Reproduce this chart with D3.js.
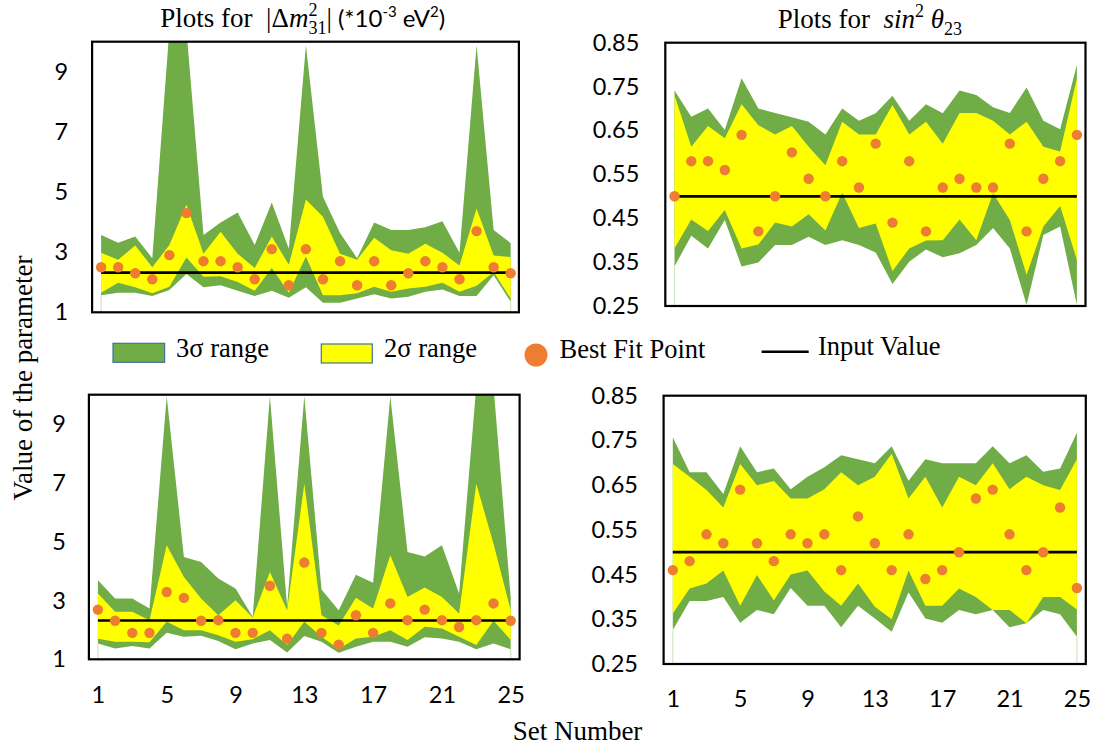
<!DOCTYPE html>
<html>
<head>
<meta charset="utf-8">
<script src="https://cdn.jsdelivr.net/npm/d3@7"></script>
<style>
  body { margin: 0; background: #fff; }
  svg { display: block; }
  text { white-space: pre; }
</style>
</head>
<body>
<svg id="chart" width="1096" height="747"></svg>
<script>
// ---------------- DATA ----------------
const sets = [1,2,3,4,5,6,7,8,9,10,11,12,13,14,15,16,17,18,19,20,21,22,23,24,25];
const xTickLabels = [1,5,9,13,17,21,25];
const dmTicks = [1,3,5,7,9];
const thTicks = [0.25,0.35,0.45,0.55,0.65,0.75,0.85];

const dmInput = 2.32;
const thInput = 0.50;

// Top-left : |Δm²31| (set A)
const dmA_lo3 = [1.57,1.65,1.65,1.54,1.74,2.27,1.83,1.90,1.72,1.54,1.72,1.48,1.83,1.32,1.32,1.46,1.60,1.46,1.52,1.68,1.76,1.54,1.54,2.23,1.35];
const dmA_lo2 = [1.65,1.98,1.83,1.63,1.85,2.82,2.18,2.20,2.01,1.72,2.47,1.65,2.86,1.57,1.57,1.63,1.85,1.68,1.79,1.85,1.98,1.68,1.88,2.34,1.46];
const dmA_hi2 = [2.98,2.75,3.22,2.50,3.24,4.58,2.95,3.68,2.95,2.47,3.52,2.58,4.75,4.18,2.95,2.75,3.48,3.06,2.95,3.28,2.98,2.56,4.45,2.89,2.84];
const dmA_hi3 = [3.57,3.31,3.52,2.80,10.4,10.4,3.57,3.99,4.32,3.24,4.65,3.11,9.88,4.84,3.64,2.80,3.99,3.74,3.74,3.83,4.03,2.98,9.88,3.74,3.30];
const dmA_best = [2.5,2.5,2.3,2.1,2.9,4.3,2.7,2.7,2.5,2.1,3.1,1.9,3.1,2.1,2.7,1.9,2.7,1.9,2.3,2.7,2.5,2.1,3.7,2.5,2.3];

// Top-right : sin²θ23 (set A)
const thA_lo3 = [0.340,0.410,0.381,0.446,0.340,0.349,0.389,0.389,0.408,0.389,0.400,0.389,0.372,0.300,0.351,0.379,0.361,0.370,0.389,0.428,0.381,0.252,0.412,0.431,0.252];
const thA_lo2 = [0.381,0.447,0.421,0.469,0.381,0.390,0.440,0.431,0.459,0.422,0.508,0.428,0.438,0.330,0.381,0.399,0.400,0.447,0.400,0.507,0.446,0.321,0.431,0.478,0.355];
const thA_hi2 = [0.730,0.613,0.660,0.632,0.710,0.662,0.641,0.660,0.613,0.571,0.670,0.641,0.641,0.708,0.641,0.670,0.620,0.690,0.690,0.672,0.641,0.670,0.613,0.602,0.769];
const thA_hi3 = [0.741,0.681,0.700,0.651,0.769,0.700,0.690,0.680,0.670,0.641,0.700,0.672,0.689,0.729,0.672,0.710,0.689,0.741,0.731,0.703,0.690,0.748,0.672,0.653,0.799];
const thA_best = [0.50,0.58,0.58,0.56,0.64,0.42,0.50,0.60,0.54,0.50,0.58,0.52,0.62,0.44,0.58,0.42,0.52,0.54,0.52,0.52,0.62,0.42,0.54,0.58,0.64];

// Bottom-left : |Δm²31| (set B)
const dmB_lo3 = [1.54,1.37,1.45,1.37,1.90,1.77,1.80,1.62,1.34,1.54,1.66,1.23,1.79,1.60,1.22,1.43,1.60,1.60,1.43,1.75,1.71,1.60,1.34,1.54,1.34];
const dmB_lo2 = [1.70,1.60,1.60,1.58,2.28,1.99,1.99,1.82,1.60,1.68,1.99,1.49,2.28,1.77,1.35,1.71,1.77,1.99,1.66,2.11,2.05,1.77,1.49,2.31,1.66];
const dmB_hi2 = [3.24,2.62,2.62,2.33,4.88,3.80,3.07,2.50,3.01,2.42,3.97,2.67,6.97,2.50,2.15,3.09,2.73,4.54,3.12,3.44,3.12,2.56,6.97,4.93,2.67];
const dmB_hi3 = [3.69,3.07,3.07,2.73,9.95,4.48,4.31,3.75,3.41,2.45,9.95,2.79,9.95,3.37,2.67,3.88,3.60,9.95,4.65,4.50,4.88,3.24,10.3,10.3,3.10];
const dmB_best = [2.69,2.31,1.9,1.9,3.29,3.09,2.31,2.33,1.9,1.9,3.5,1.7,4.29,1.9,1.5,2.5,1.9,2.9,2.33,2.69,2.33,2.1,2.33,2.9,2.31];

// Bottom-right : sin²θ23 (set B)
const thB_lo3 = [0.326,0.391,0.391,0.400,0.342,0.371,0.361,0.420,0.380,0.380,0.332,0.380,0.352,0.322,0.410,0.352,0.342,0.371,0.361,0.371,0.332,0.341,0.371,0.361,0.311];
const thB_lo2 = [0.363,0.419,0.430,0.459,0.380,0.449,0.392,0.450,0.459,0.412,0.380,0.430,0.378,0.350,0.459,0.380,0.380,0.419,0.400,0.371,0.371,0.341,0.400,0.400,0.372];
const thB_hi2 = [0.697,0.669,0.639,0.600,0.697,0.650,0.659,0.620,0.620,0.641,0.679,0.650,0.669,0.720,0.620,0.669,0.600,0.669,0.650,0.699,0.641,0.669,0.650,0.639,0.708];
const thB_hi3 = [0.757,0.679,0.679,0.630,0.737,0.679,0.687,0.641,0.669,0.690,0.717,0.708,0.699,0.737,0.660,0.708,0.699,0.699,0.699,0.737,0.699,0.717,0.680,0.687,0.767];
const thB_best = [0.46,0.48,0.54,0.52,0.64,0.52,0.48,0.54,0.52,0.54,0.46,0.58,0.52,0.46,0.54,0.44,0.46,0.50,0.62,0.64,0.54,0.46,0.50,0.60,0.42];

// ---------------- STYLE ----------------
const GREEN = "#70AD47", YELLOW = "#FFFF00", ORANGE = "#ED7D31";
const SERIF = "'Liberation Serif','Times New Roman',serif";
const SANS = "Lato,'Open Sans',sans-serif";

const svg = d3.select("#chart");
svg.append("rect").attr("width",1096).attr("height",747).attr("fill","#fff");

function drawPanel(cfg, idx) {
  const g = svg.append("g");
  const x = d3.scaleLinear().domain([1,25]).range([cfg.px1, cfg.px25]);
  const y = d3.scaleLinear().domain(cfg.domain).range([cfg.y1, cfg.y0]);
  const clipId = "clip" + idx;
  svg.append("clipPath").attr("id", clipId).append("rect")
    .attr("x", cfg.x0).attr("y", cfg.y0).attr("width", cfg.x1 - cfg.x0).attr("height", cfg.y1 - cfg.y0);
  const pg = g.append("g").attr("clip-path", `url(#${clipId})`);

  const greenArea = d3.area().x(d => x(d)).y0((d,i) => y(cfg.lo3[i])).y1((d,i) => y(cfg.hi3[i]));
  const yellowArea = d3.area().x(d => x(d)).y0((d,i) => y(cfg.lo2[i])).y1((d,i) => y(cfg.hi2[i]));
  pg.append("path").datum(sets).attr("d", greenArea).attr("fill", GREEN);
  pg.append("path").datum(sets).attr("d", yellowArea).attr("fill", YELLOW);

  // faint edge lines at the ends of the stacked area
  [0, sets.length - 1].forEach(i => {
    pg.append("line").attr("x1", x(sets[i])).attr("x2", x(sets[i]))
      .attr("y1", y(cfg.lo3[i])).attr("y2", cfg.y1)
      .attr("stroke", "#d3e6c3").attr("stroke-width", 1.2);
  });

  const line = d3.line().x(d => x(d)).y(() => y(cfg.input));
  pg.append("path").datum(sets).attr("d", line).attr("stroke", "#000").attr("stroke-width", 2.7).attr("fill", "none");

  pg.selectAll("circle.best").data(sets).enter().append("circle")
    .attr("class","best")
    .attr("cx", d => x(d)).attr("cy", (d,i) => y(cfg.best[i])).attr("r", 5.2).attr("fill", ORANGE);

  g.append("rect").attr("x", cfg.x0).attr("y", cfg.y0).attr("width", cfg.x1 - cfg.x0).attr("height", cfg.y1 - cfg.y0)
    .attr("fill","none").attr("stroke","#000").attr("stroke-width", 2.2);

  const yAxis = d3.axisLeft(y).tickValues(cfg.ticks).tickSize(0).tickPadding(cfg.yPad).tickFormat(cfg.fmt);
  const ya = g.append("g").attr("transform", `translate(${cfg.x0},0)`).call(yAxis);
  ya.select(".domain").remove();
  ya.selectAll("text").attr("font-family", SANS).attr("font-size", 23.5).attr("fill", "#000");

  if (cfg.xAxis) {
    const xAxis = d3.axisBottom(x).tickValues(xTickLabels).tickSize(0).tickPadding(cfg.xPad).tickFormat(d3.format("d"));
    const xa = g.append("g").attr("transform", `translate(0,${cfg.y1})`).call(xAxis);
    xa.select(".domain").remove();
    xa.selectAll("text").attr("font-family", SANS).attr("font-size", 23.5).attr("fill", "#000");
  }
}

const fmtInt = d3.format("d");
const fmt2 = d3.format(".2f");

drawPanel({x0:92.1, x1:518.9, y0:41.7, y1:312.3, px1:101.1, px25:510.7, domain:[1,10], ticks:dmTicks, fmt:fmtInt, yPad:24,
  lo3:dmA_lo3, lo2:dmA_lo2, hi2:dmA_hi2, hi3:dmA_hi3, best:dmA_best, input:dmInput, xAxis:false}, 1);
drawPanel({x0:665.3, x1:1085.5, y0:42.7, y1:306, px1:674.5, px25:1076.9, domain:[0.25,0.85], ticks:thTicks, fmt:fmt2, yPad:26,
  lo3:thA_lo3, lo2:thA_lo2, hi2:thA_hi2, hi3:thA_hi3, best:thA_best, input:thInput, xAxis:false}, 2);
drawPanel({x0:88.9, x1:519.6, y0:394.7, y1:659.3, px1:97.9, px25:510.7, domain:[1,10], ticks:dmTicks, fmt:fmtInt, yPad:23,
  lo3:dmB_lo3, lo2:dmB_lo2, hi2:dmB_hi2, hi3:dmB_hi3, best:dmB_best, input:dmInput, xAxis:true, xPad:27}, 3);
drawPanel({x0:663.6, x1:1085.8, y0:395.7, y1:664, px1:672.8, px25:1076.9, domain:[0.25,0.85], ticks:thTicks, fmt:fmt2, yPad:25.6,
  lo3:thB_lo3, lo2:thB_lo2, hi2:thB_hi2, hi3:thB_hi3, best:thB_best, input:thInput, xAxis:true, xPad:26}, 4);

// ---------------- TITLES ----------------
function richText(cx, baseline, parts) {
  const t = svg.append("text").attr("x", 0).attr("y", baseline).attr("xml:space","preserve").attr("fill","#000");
  let lastLen = 0;
  parts.forEach(p => {
    const ts = t.append("tspan").text(p.text)
      .attr("font-family", p.ff).attr("font-size", p.fs)
      .attr("font-style", p.it ? "italic" : "normal");
    if (p.dy) ts.attr("dy", p.dy);
    if (p.back) ts.attr("dx", -lastLen);
    lastLen = ts.node().getComputedTextLength();
  });
  const bb = t.node().getBBox();
  t.attr("transform", `translate(${cx - (bb.x + bb.width / 2)},0)`);
}

richText(302.7, 27, [
  {text:"Plots for  ", ff:SERIF, fs:27},
  {text:"|Δ", ff:SERIF, fs:27},
  {text:"m", ff:SERIF, fs:27, it:true},
  {text:"2", ff:SERIF, fs:18, dy:-11},
  {text:"31", ff:SERIF, fs:18, dy:18, back:true},
  {text:"|", ff:SERIF, fs:27, dy:-7},
  {text:" (*10", ff:SANS, fs:24},
  {text:"-3", ff:SANS, fs:15, dy:-10},
  {text:" eV", ff:SANS, fs:24, dy:10},
  {text:"2", ff:SANS, fs:15, dy:-10},
  {text:")", ff:SANS, fs:24, dy:10}
]);

richText(869.8, 28, [
  {text:"Plots for  ", ff:SERIF, fs:27},
  {text:"sin", ff:SERIF, fs:27, it:true},
  {text:"2", ff:SERIF, fs:18, dy:-11},
  {text:" θ", ff:SERIF, fs:27, it:true, dy:11},
  {text:"23", ff:SERIF, fs:18, dy:7}
]);

// ---------------- AXIS TITLES ----------------
svg.append("text").attr("transform", "translate(32,378) rotate(-90)")
  .attr("text-anchor","middle").attr("font-family", SERIF).attr("font-size", 27).attr("fill","#000")
  .text("Value of the parameter");
svg.append("text").attr("x", 577.5).attr("y", 740)
  .attr("text-anchor","middle").attr("font-family", SERIF).attr("font-size", 27).attr("fill","#000")
  .text("Set Number");

// ---------------- LEGEND ----------------
const legendItems = ["3σ range", "2σ range", "Best Fit Point", "Input Value"];
const lg = svg.append("g");
lg.append("rect").attr("x",113).attr("y",343.3).attr("width",51.6).attr("height",19).attr("fill",GREEN).attr("stroke","#41719C").attr("stroke-width",1.2);
lg.append("text").attr("x",176).attr("y",357).attr("font-family",SERIF).attr("font-size",26.5).text(legendItems[0]);
lg.append("rect").attr("x",321.3).attr("y",344).attr("width",51).attr("height",19).attr("fill",YELLOW).attr("stroke","#41719C").attr("stroke-width",1.2);
lg.append("text").attr("x",384).attr("y",357).attr("font-family",SERIF).attr("font-size",26.5).text(legendItems[1]);
lg.append("circle").attr("cx",536).attr("cy",355).attr("r",11.5).attr("fill",ORANGE);
lg.append("text").attr("x",559.6).attr("y",358).attr("font-family",SERIF).attr("font-size",26.5).text(legendItems[2]);
lg.append("line").attr("x1",761.6).attr("x2",808.7).attr("y1",351.7).attr("y2",351.7).attr("stroke","#000").attr("stroke-width",2.5);
lg.append("text").attr("x",818).attr("y",355).attr("font-family",SERIF).attr("font-size",26.5).text(legendItems[3]);
</script>
</body>
</html>
